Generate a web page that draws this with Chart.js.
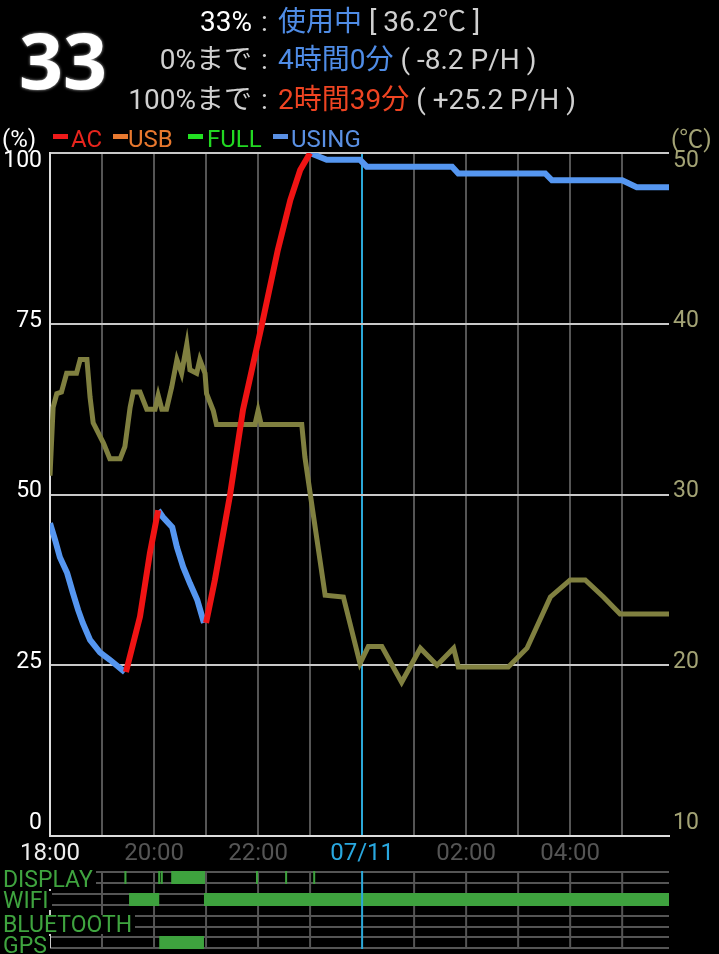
<!DOCTYPE html>
<html lang="ja">
<head>
  <meta charset="UTF-8" />
  <title>Battery History</title>
  <script src="https://cdn.jsdelivr.net/npm/chart.js"></script>
  <style>
    body {
      margin: 0;
      background: #000;
    }

    #wrap {
      position: relative;
      width: 719px;
      height: 954px;
      overflow: hidden;
      font-family: Roboto, 'Noto Sans CJK JP', sans-serif;
    }

    canvas {
      position: absolute;
      left: 0;
      top: 0;
    }

    .big {
      position: absolute;
      left: 19px;
      top: 21px;
      font: bold 77px/77px 'Open Sans', sans-serif;
      color: #fff;
      text-shadow: 0 0 3px rgba(255, 255, 255, 0.8);
    }

    .hl {
      position: absolute;
      left: 0;
      width: 719px;
      height: 32px;
      font-size: 28px;
      line-height: 32px;
      color: #d0d0d0;
      white-space: nowrap;
    }

    .hl .k { position: absolute; right: 467px; }
    .hl .c { position: absolute; left: 261px; }
    .hl .v { position: absolute; left: 278px; }

    .lg {
      position: absolute;
      top: 125px;
      font-size: 24px;
      line-height: 28px;
      white-space: nowrap;
    }

    .dash {
      position: absolute;
      top: 134px;
      width: 15px;
      height: 5px;
    }

    .st {
      position: absolute;
      left: 3px;
      height: 19px;
      font-size: 23px;
      line-height: 19px;
      color: #3fa43f;
      background: #000;
      padding-right: 3px;
    }
  </style>
</head>
<body>

<div id="wrap">
  <canvas id="battChart" width="719" height="954"></canvas>

  <div class="big">33</div>
  <div class="hl" style="top:6px">
    <span class="k" style="color:#fff">33%</span><span class="c">:</span>
    <span class="v"><span style="color:#4f8ce6">使用中</span> [ 36.2℃ ]</span>
  </div>
  <div class="hl" style="top:44px">
    <span class="k">0%まで</span><span class="c">:</span>
    <span class="v"><span style="color:#4f8ce6">4時間0分</span> ( -8.2 P/H )</span>
  </div>
  <div class="hl" style="top:84px">
    <span class="k">100%まで</span><span class="c">:</span>
    <span class="v"><span style="color:#ee4422">2時間39分</span> ( +25.2 P/H )</span>
  </div>

  <div class="lg" style="left:2px;color:#fff">(%)</div>
  <div class="dash" style="left:53px;background:#ee1a1a"></div>
  <div class="lg" style="left:71px;color:#e8251d">AC</div>
  <div class="dash" style="left:113px;background:#ea7a30"></div>
  <div class="lg" style="left:128px;color:#e8782e">USB</div>
  <div class="dash" style="left:188px;background:#22e022"></div>
  <div class="lg" style="left:207px;color:#22d822">FULL</div>
  <div class="dash" style="left:273px;background:#5a90e4"></div>
  <div class="lg" style="left:291px;color:#5a90e4">USING</div>
  <div class="lg" style="left:671px;color:#a3a375">(℃)</div>

  <div class="st" style="top:870px">DISPLAY</div>
  <div class="st" style="top:891px">WIFI</div>
  <div class="st" style="top:915px">BLUETOOTH</div>
  <div class="st" style="top:936px">GPS</div>
</div>

<script>
  // time axis: hours after 18:00 (07/10)
  const hourTicks = [0, 1, 2, 3, 4, 5, 6, 7, 8, 9, 10, 11];
  const hourLabels = ["18:00", "", "20:00", "", "22:00", "", "07/11", "", "02:00", "", "04:00", ""];
  const levelTicks = [0, 25, 50, 75, 100];
  const tempTicks = [10, 20, 30, 40, 50];

  // AC charging (%), null = gap
  const acHours = [1.46, 1.73, 1.92, 2.08, 2.5, 3.0, 3.17, 3.46, 3.71, 4.08, 4.38, 4.62, 4.81, 5.0];
  const acLevels = [24.0, 32.1, 41.4, 47.7, null, 31.2, 37.5, 49.9, 62.4, 75.1, 85.8, 93.1, 97.5, 100];

  // on battery (%)
  const usingHours = [0, 0.1, 0.19, 0.33, 0.44, 0.54, 0.63, 0.77, 0.96, 1.15, 1.44, 1.8,
    2.08, 2.17, 2.35, 2.44, 2.56, 2.69, 2.83, 2.96, 4.0,
    5.0, 5.32, 5.96, 6.09, 7.73, 7.85, 9.52, 9.65, 11.0, 11.28, 11.9];
  const usingLevels = [45.8, 43.3, 40.8, 38.5, 35.6, 33.1, 31.2, 28.7, 26.9, 25.8, 24.0, null,
    47.7, 46.7, 45.2, 42.3, 39.4, 37.0, 34.6, 31.2, null,
    100, 99, 99, 98, 98, 97, 97, 96, 96, 95, 95];

  // battery temperature (℃)
  const tempHours = [0, 0.06, 0.13, 0.22, 0.32, 0.51, 0.58, 0.71, 0.77, 0.83, 1.03, 1.15, 1.35, 1.44,
    1.54, 1.6, 1.73, 1.86, 2.02, 2.08, 2.15, 2.24, 2.34, 2.44, 2.53, 2.63, 2.69, 2.82, 2.88, 2.98,
    3.01, 3.14, 3.2, 3.94, 4.0, 4.06, 4.84, 4.9, 5.0, 5.29, 5.64, 5.96, 6.12, 6.38, 6.76, 7.12,
    7.44, 7.76, 7.85, 8.81, 9.17, 9.62, 10.0, 10.29, 10.64, 10.96, 11.9];
  const tempValues = [31.1, 35.1, 35.9, 36.0, 37.1, 37.1, 37.9, 37.9, 35.7, 34.2, 33.0, 32.1, 32.1, 32.8,
    35.1, 36.0, 36.0, 35.0, 35.0, 35.8, 35.0, 35.0, 36.3, 37.9, 37.1, 38.8, 37.3, 37.1, 37.9, 37.1,
    35.9, 34.9, 34.1, 34.1, 34.9, 34.1, 34.1, 32.2, 30.1, 24.1, 24.0, 20.1, 21.1, 21.1, 19.0, 21.0,
    20.0, 21.0, 19.9, 19.9, 21.0, 24.0, 25.0, 25.0, 24.0, 23.0, 23.0];

  // on/off periods [from, to] in hours
  const displayOn = [[1.43, 1.47], [2.08, 2.1], [2.13, 2.15], [2.33, 2.98], [3.96, 3.99], [4.52, 4.55], [5.06, 5.09]];
  const wifiOn = [[1.52, 2.1], [2.96, 11.9]];
  const bluetoothOn = [];
  const gpsOn = [[2.1, 2.96]];

  const MIDNIGHT = 6;

  function toPoints(xs, ys) {
    return xs.map((x, i) => ({ x: x, y: ys[i] }));
  }

  // y labels kept inside the plot at the ends, like the phone app does
  const sideLabels = {
    id: "sideLabels",
    afterDraw(chart) {
      const c = chart.ctx;
      const area = chart.chartArea;
      c.save();
      c.font = "23px Roboto";
      c.textBaseline = "middle";

      const y = chart.scales.y;
      c.fillStyle = "#fff";
      c.textAlign = "right";
      levelTicks.forEach(v => {
        let py = y.getPixelForValue(v) - 3;
        py = Math.min(Math.max(py, area.top + 8), area.bottom - 13);
        c.fillText(String(v), 42, py);
      });

      const y1 = chart.scales.y1;
      c.fillStyle = "#a3a375";
      c.textAlign = "left";
      tempTicks.forEach(v => {
        let py = y1.getPixelForValue(v) - 3;
        py = Math.min(Math.max(py, area.top + 8), area.bottom - 13);
        c.fillText(String(v), 673, py);
      });
      c.restore();
    }
  };

  // DISPLAY / WIFI / BLUETOOTH / GPS strips under the chart
  const statusRows = {
    id: "statusRows",
    afterDraw(chart) {
      const c = chart.ctx;
      const x = chart.scales.x;
      const left = chart.chartArea.left;
      const right = chart.chartArea.right;
      const rows = [
        { top: 872, on: displayOn },
        { top: 894, on: wifiOn },
        { top: 916, on: bluetoothOn },
        { top: 937, on: gpsOn }
      ];
      const h = 11;
      c.save();
      c.lineWidth = 2;
      c.strokeStyle = "#555";
      rows.forEach(r => {
        c.beginPath();
        c.moveTo(left, r.top); c.lineTo(right, r.top);
        c.moveTo(left, r.top + h); c.lineTo(right, r.top + h);
        c.stroke();
      });
      hourTicks.forEach(v => {
        if (v === 0 || v === MIDNIGHT) return;
        const px = x.getPixelForValue(v);
        c.beginPath();
        c.moveTo(px, 872); c.lineTo(px, 948);
        c.stroke();
      });
      c.strokeStyle = "#ccc";
      c.beginPath();
      c.moveTo(left, 872); c.lineTo(left, 948);
      c.stroke();

      c.fillStyle = "#3ea23e";
      rows.forEach(r => {
        r.on.forEach(p => {
          const x0 = x.getPixelForValue(p[0]);
          const x1 = x.getPixelForValue(p[1]);
          c.fillRect(x0, r.top - 1, Math.max(x1 - x0, 2), h + 2);
        });
      });

      const mx = x.getPixelForValue(MIDNIGHT);
      c.strokeStyle = "#2ba8d8";
      c.beginPath();
      c.moveTo(mx, 871); c.lineTo(mx, 949);
      c.stroke();
      c.restore();
    }
  };

  function tickColor(ctx) {
    const v = ctx.tick ? ctx.tick.value : null;
    if (v === 0) return "#eee";
    if (v === MIDNIGHT) return "#29a8e0";
    return "#555";
  }

  function gridColor(ctx) {
    const v = ctx.tick ? ctx.tick.value : null;
    if (v === 0) return "#ddd";
    if (v === MIDNIGHT) return "#2ba8d8";
    return "#555";
  }

  new Chart(document.getElementById("battChart").getContext("2d"), {
    type: "line",
    data: {
      datasets: [
        {
          label: "AC",
          data: toPoints(acHours, acLevels),
          borderColor: "#f01414",
          borderWidth: 6,
          yAxisID: "y"
        },
        { label: "USB", data: [], borderColor: "#ea7a30", yAxisID: "y" },
        { label: "FULL", data: [], borderColor: "#22e022", yAxisID: "y" },
        {
          label: "USING",
          data: toPoints(usingHours, usingLevels),
          borderColor: "#5596f0",
          borderWidth: 6,
          yAxisID: "y"
        },
        {
          label: "温度",
          data: toPoints(tempHours, tempValues),
          borderColor: "#808040",
          borderWidth: 5,
          yAxisID: "y1"
        }
      ]
    },
    options: {
      responsive: false,
      animation: false,
      devicePixelRatio: 1,
      events: [],
      spanGaps: false,
      elements: {
        point: { radius: 0 },
        line: { tension: 0, borderCapStyle: "butt" }
      },
      layout: { padding: { top: 153, left: 0, right: 0, bottom: 0 } },
      plugins: {
        legend: { display: false },
        tooltip: { enabled: false }
      },
      scales: {
        x: {
          type: "linear",
          min: 0,
          max: 11.9,
          afterBuildTicks: s => { s.ticks = hourTicks.map(v => ({ value: v })); },
          afterFit: s => { s.height = 118; },
          grid: { color: gridColor, lineWidth: 2, drawTicks: false },
          border: { color: "#ddd", width: 2 },
          ticks: {
            autoSkip: false,
            maxRotation: 0,
            padding: 4,
            font: { family: "Roboto", size: 24 },
            color: tickColor,
            callback: v => hourLabels[hourTicks.indexOf(v)] || ""
          }
        },
        y: {
          position: "left",
          min: 0,
          max: 100,
          afterBuildTicks: s => { s.ticks = levelTicks.map(v => ({ value: v })); },
          afterFit: s => { s.width = 50; },
          grid: { color: "#c8c8c8", lineWidth: 2, drawTicks: false },
          border: { color: "#ddd", width: 2 },
          ticks: { display: false }
        },
        y1: {
          position: "right",
          min: 10,
          max: 50,
          afterBuildTicks: s => { s.ticks = tempTicks.map(v => ({ value: v })); },
          afterFit: s => { s.width = 50; },
          grid: { display: false, drawTicks: false },
          border: { display: false },
          ticks: { display: false }
        }
      }
    },
    plugins: [sideLabels, statusRows]
  });
</script>

</body>
</html>
